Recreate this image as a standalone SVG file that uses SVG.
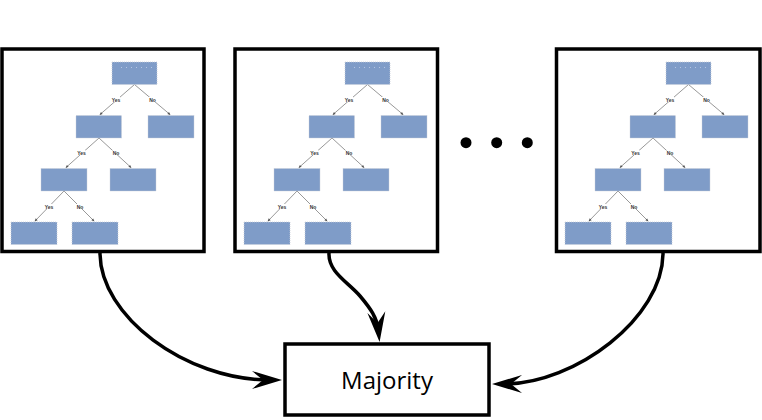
<svg xmlns="http://www.w3.org/2000/svg" width="762" height="420" viewBox="0 0 762 420">
<style>
.frame{fill:#fff;stroke:#000;stroke-width:3.5}
.tn{fill:#7f9cc8;stroke:#c9ced8;stroke-width:0.8;stroke-dasharray:1 1}
.te{fill:none;stroke:#7d7d7d;stroke-width:0.8;marker-end:url(#small)}
.lbg{fill:#fff}
.lbl{font-family:"Liberation Sans",Arial,sans-serif;font-size:5px;font-weight:bold;fill:#333;text-anchor:middle}
.big{fill:none;stroke:#000;stroke-width:3.5;marker-end:url(#bigA)}
.ph{stroke:#d6e0f0;stroke-width:0.8;stroke-dasharray:0.8 4.2}
</style>
<defs>
<marker id="bigA" markerUnits="userSpaceOnUse" markerWidth="10" markerHeight="10" refX="0" refY="0" orient="auto" overflow="visible">
<path d="M12,0 L-18,-9 L-7,0 L-18,9 Z" fill="#000"/>
</marker>
<marker id="small" markerUnits="userSpaceOnUse" markerWidth="4" markerHeight="4" refX="0" refY="0" orient="auto" overflow="visible">
<path d="M0.6,0 L-2.4,-1.3 L-2.4,1.3 Z" fill="#555"/>
</marker>
</defs>
<rect width="762" height="420" fill="#fff"/>

<g id="tree1">
<rect class="frame" x="2" y="49" width="202" height="202.5"/>
<g id="tree1-edges">
<path class="te" d="M134.5,84.5 L100,114.5"/>
<path class="te" d="M134.5,84.5 L170,114.5"/>
<path class="te" d="M99,138 L66,167.5"/>
<path class="te" d="M99,138 L131,167.5"/>
<path class="te" d="M64,191 L35,221"/>
<path class="te" d="M64,191 L94,221"/>
<rect class="lbg" x="112" y="97" width="8" height="5"/><text class="lbl" x="116" y="101.5">Yes</text>
<rect class="lbg" x="149" y="97" width="7" height="5"/><text class="lbl" x="152.5" y="101.5">No</text>
<rect class="lbg" x="77.5" y="150" width="8" height="5"/><text class="lbl" x="81.5" y="154.5">Yes</text>
<rect class="lbg" x="112.5" y="150" width="7" height="5"/><text class="lbl" x="116" y="154.5">No</text>
<rect class="lbg" x="45" y="204" width="8" height="5"/><text class="lbl" x="49" y="208.5">Yes</text>
<rect class="lbg" x="76.5" y="204" width="7" height="5"/><text class="lbl" x="80" y="208.5">No</text>
</g>
<g id="tree1-n1"><rect class="tn" x="112" y="62" width="45" height="22.5"/><line class="ph" x1="121" y1="67.5" x2="152" y2="67.5"/></g>
<g id="tree1-n2"><rect class="tn" x="76" y="115.5" width="45.5" height="22.5"/></g>
<g id="tree1-n3"><rect class="tn" x="148" y="115.5" width="46" height="22.5"/></g>
<g id="tree1-n4"><rect class="tn" x="41" y="168.5" width="46" height="22.5"/></g>
<g id="tree1-n5"><rect class="tn" x="110" y="168.5" width="46" height="22.5"/></g>
<g id="tree1-n6"><rect class="tn" x="11" y="222" width="46" height="22.5"/></g>
<g id="tree1-n7"><rect class="tn" x="72" y="222" width="46" height="22.5"/></g>
</g>

<g id="tree2" transform="translate(233,0)">
<rect class="frame" x="2" y="49" width="202.5" height="202.5"/>
<g id="tree2-edges">
<path class="te" d="M134.5,84.5 L100,114.5"/>
<path class="te" d="M134.5,84.5 L170,114.5"/>
<path class="te" d="M99,138 L66,167.5"/>
<path class="te" d="M99,138 L131,167.5"/>
<path class="te" d="M64,191 L35,221"/>
<path class="te" d="M64,191 L94,221"/>
<rect class="lbg" x="112" y="97" width="8" height="5"/><text class="lbl" x="116" y="101.5">Yes</text>
<rect class="lbg" x="149" y="97" width="7" height="5"/><text class="lbl" x="152.5" y="101.5">No</text>
<rect class="lbg" x="77.5" y="150" width="8" height="5"/><text class="lbl" x="81.5" y="154.5">Yes</text>
<rect class="lbg" x="112.5" y="150" width="7" height="5"/><text class="lbl" x="116" y="154.5">No</text>
<rect class="lbg" x="45" y="204" width="8" height="5"/><text class="lbl" x="49" y="208.5">Yes</text>
<rect class="lbg" x="76.5" y="204" width="7" height="5"/><text class="lbl" x="80" y="208.5">No</text>
</g>
<g id="tree2-n1"><rect class="tn" x="112" y="62" width="45" height="22.5"/><line class="ph" x1="121" y1="67.5" x2="152" y2="67.5"/></g>
<g id="tree2-n2"><rect class="tn" x="76" y="115.5" width="45.5" height="22.5"/></g>
<g id="tree2-n3"><rect class="tn" x="148" y="115.5" width="46" height="22.5"/></g>
<g id="tree2-n4"><rect class="tn" x="41" y="168.5" width="46" height="22.5"/></g>
<g id="tree2-n5"><rect class="tn" x="110" y="168.5" width="46" height="22.5"/></g>
<g id="tree2-n6"><rect class="tn" x="11" y="222" width="46" height="22.5"/></g>
<g id="tree2-n7"><rect class="tn" x="72" y="222" width="46" height="22.5"/></g>
</g>

<g id="tree3" transform="translate(554,0)">
<rect class="frame" x="2.5" y="49" width="203.5" height="202.5"/>
<g id="tree3-edges">
<path class="te" d="M134.5,84.5 L100,114.5"/>
<path class="te" d="M134.5,84.5 L170,114.5"/>
<path class="te" d="M99,138 L66,167.5"/>
<path class="te" d="M99,138 L131,167.5"/>
<path class="te" d="M64,191 L35,221"/>
<path class="te" d="M64,191 L94,221"/>
<rect class="lbg" x="112" y="97" width="8" height="5"/><text class="lbl" x="116" y="101.5">Yes</text>
<rect class="lbg" x="149" y="97" width="7" height="5"/><text class="lbl" x="152.5" y="101.5">No</text>
<rect class="lbg" x="77.5" y="150" width="8" height="5"/><text class="lbl" x="81.5" y="154.5">Yes</text>
<rect class="lbg" x="112.5" y="150" width="7" height="5"/><text class="lbl" x="116" y="154.5">No</text>
<rect class="lbg" x="45" y="204" width="8" height="5"/><text class="lbl" x="49" y="208.5">Yes</text>
<rect class="lbg" x="76.5" y="204" width="7" height="5"/><text class="lbl" x="80" y="208.5">No</text>
</g>
<g id="tree3-n1"><rect class="tn" x="112" y="62" width="45" height="22.5"/><line class="ph" x1="121" y1="67.5" x2="152" y2="67.5"/></g>
<g id="tree3-n2"><rect class="tn" x="76" y="115.5" width="45.5" height="22.5"/></g>
<g id="tree3-n3"><rect class="tn" x="148" y="115.5" width="46" height="22.5"/></g>
<g id="tree3-n4"><rect class="tn" x="41" y="168.5" width="46" height="22.5"/></g>
<g id="tree3-n5"><rect class="tn" x="110" y="168.5" width="46" height="22.5"/></g>
<g id="tree3-n6"><rect class="tn" x="11" y="222" width="46" height="22.5"/></g>
<g id="tree3-n7"><rect class="tn" x="72" y="222" width="46" height="22.5"/></g>
</g>

<g id="ellipsis" fill="#000">
<circle cx="466" cy="142.7" r="5.5"/>
<circle cx="496.7" cy="142.7" r="5.5"/>
<circle cx="527.3" cy="142.7" r="5.5"/>
</g>

<g id="majority">
<rect x="285" y="344" width="204" height="71" fill="#fff" stroke="#000" stroke-width="3.5"/>
<text x="387" y="388.5" font-family="'Open Sans','Liberation Sans',sans-serif" font-size="24" text-anchor="middle" fill="#000">Majority</text>
</g>

<g id="connectors">
<path class="big" d="M100,253 C100,316 185,380 270,380"/>
<path class="big" d="M329,253 C328,272 348,282 360,296 C371,309 377,318 378.3,330"/>
<path class="big" d="M663,253 C663,318 575,384 504,384"/>
</g>
</svg>
